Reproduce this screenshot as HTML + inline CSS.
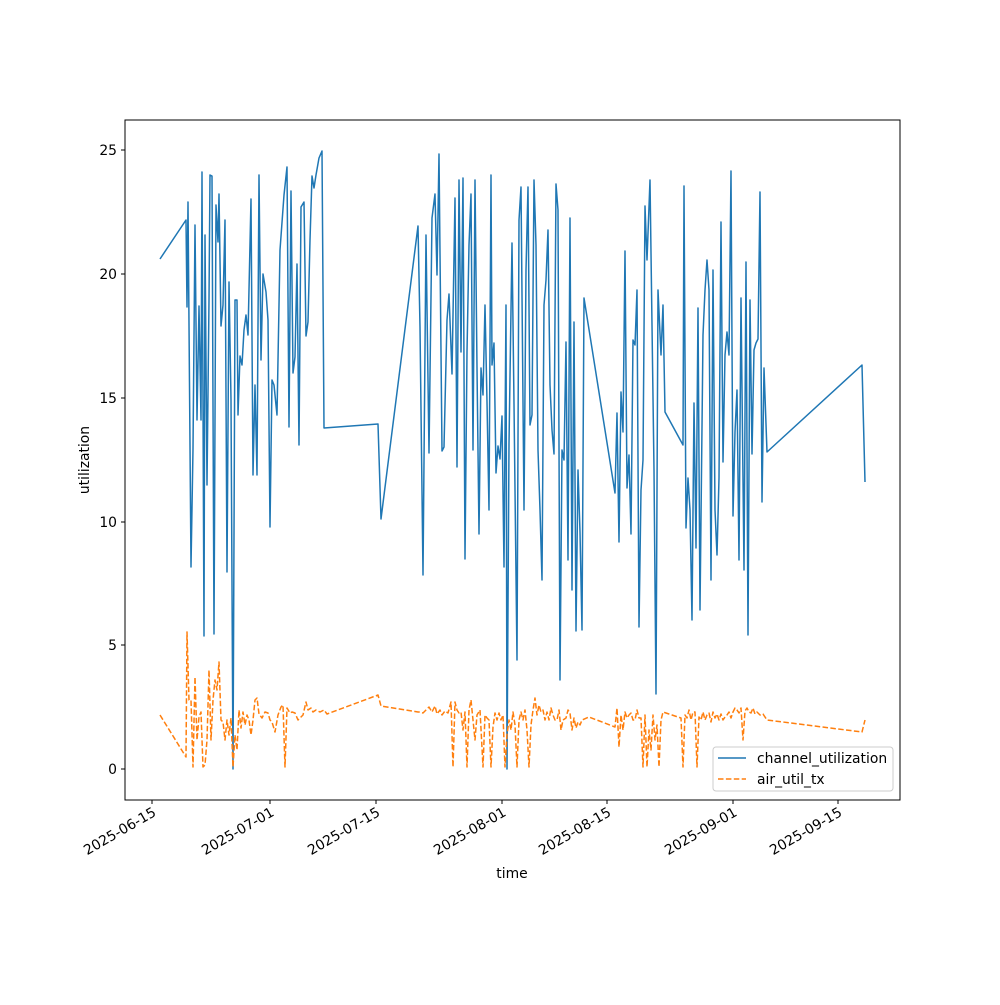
<!DOCTYPE html>
<html><head><meta charset="utf-8"><style>
html,body{margin:0;padding:0;background:#fff;}
svg text{font-family:"DejaVu Sans","Liberation Sans",sans-serif;font-size:13.9px;fill:#000;}
</style></head><body>
<svg width="1000" height="1000" viewBox="0 0 1000 1000" xmlns="http://www.w3.org/2000/svg">
<rect width="1000" height="1000" fill="#fff"/>
<g fill="none" stroke-linejoin="round">
<polyline stroke="#1f77b4" stroke-width="1.5" points="160,259 186,220 187,307 188,202 191,567 193,449 195,225 197,420 199,306 201,420 202,172 204,636 205,235 207,485 209,300 210,175 212,176 214,634 216,205 218,242 219,194 221,326 223,305 225,220 227,572 229,282 231,400 233,769 235,300 237,300 238,415 240,356 242,365 244,330 246,315 248,335 251,199 253,475 255,385 257,475 259,175 261,360 263,274 266,292 268,320 270,527 272,380 274,385 277,415 280,250 284,195 287,167 289,427 291,191 293,373 295,357 297,264 299,445 301,207 304,202 306,336 308,322 310,240 312,176 314,188 316,175 319,158 322,151 324,428 378,424 381,519 418,226 420,327 423,575 426,235 429,453 432,218 435,194 437,275 439,154 442,451 444,447 447,320 449,294 452,374 455,198 457,467 459,180 461,352 463,178 465,559 467,352 469,245 471,194 473,450 475,180 477,368 479,534 481,368 483,395 485,305 487,402 489,510 491,175 492,365 494,343 496,473 498,446 500,459 502,416 504,567 506,305 507,769 509,444 512,243 514,404 517,660 519,220 521,187 524,510 526,270 528,187 530,425 532,415 534,180 536,245 538,450 540,510 542,580 544,305 546,280 548,230 550,385 552,430 554,454 556,184 558,210 560,680 562,450 564,460 566,342 568,560 570,218 572,590 574,322 576,631 578,470 580,532 582,630 584,298 615,493 617,413 619,542 621,392 623,432 625,251 627,488 629,455 631,534 633,340 635,345 637,290 639,627 641,490 643,460 645,206 647,260 650,180 652,325 654,470 656,694 658,290 661,355 663,305 665,412 683,445 684,186 686,528 688,478 690,510 692,620 694,403 696,548 698,308 700,610 703,335 705,290 707,260 709,290 711,580 713,270 715,510 717,555 719,478 721,222 723,462 725,355 727,332 729,355 731,171 733,516 735,432 737,390 739,560 741,298 744,570 746,262 748,635 750,300 752,454 754,350 756,343 758,339 760,192 762,502 764,368 767,452 862,365 865,482"/>
<polyline stroke="#ff7f0e" stroke-width="1.5" stroke-dasharray="5.5,2.4" points="160,715 186,757 187,632 189,700 191,700 193,767 195,677 197,740 199,717 201,712 203,767 205,765 207,740 209,670 211,740 213,700 215,680 217,690 219,662 221,720 223,722 225,740 227,720 229,735 231,718 233,767 235,735 237,750 239,710 241,728 243,712 245,725 247,715 249,720 251,735 253,720 255,700 257,698 259,714 262,718 265,712 268,713 270,720 272,722 275,732 278,715 281,707 283,705 285,767 287,708 290,713 292,712 295,713 298,720 301,717 303,715 306,702 308,710 311,708 313,712 316,710 320,712 324,710 327,714 378,695 381,706 418,712 420,712 423,713 426,710 429,707 432,712 435,706 437,714 440,710 442,715 445,711 448,713 451,702 453,767 455,702 457,710 459,713 461,712 463,730 465,712 467,767 469,710 471,700 473,720 475,740 477,715 480,710 483,767 485,715 487,718 489,720 491,767 493,727 495,713 497,720 499,713 501,720 503,715 505,767 507,735 509,720 511,730 513,712 515,725 517,767 519,720 521,712 523,720 525,710 527,730 529,767 531,725 533,710 535,698 537,715 539,705 541,712 543,710 545,720 547,712 549,720 551,708 553,715 555,720 557,720 559,710 561,730 563,720 566,718 568,710 570,713 572,730 574,718 576,728 578,722 580,725 582,720 589,717 615,727 617,708 619,747 621,715 623,730 625,712 627,718 629,715 631,713 633,720 635,720 637,710 639,718 641,718 643,767 645,715 647,767 649,730 651,750 653,715 655,740 657,725 659,767 661,720 663,712 681,718 683,767 685,715 687,718 689,710 691,720 693,712 695,712 697,767 699,717 701,720 703,712 705,720 707,715 709,713 711,722 713,712 715,718 717,714 719,720 721,714 723,720 725,717 727,715 729,712 731,718 733,712 735,708 737,710 739,713 741,708 743,740 745,711 747,708 749,712 751,713 753,708 755,714 757,712 760,715 763,714 767,720 862,732 865,720"/>
</g>
<rect x="125" y="120" width="775" height="680" fill="none" stroke="#000" stroke-width="1"/>
<g stroke="#000" stroke-width="1">
<line x1="125" y1="150" x2="121" y2="150"/><line x1="125" y1="274" x2="121" y2="274"/><line x1="125" y1="398" x2="121" y2="398"/><line x1="125" y1="522" x2="121" y2="522"/><line x1="125" y1="645" x2="121" y2="645"/><line x1="125" y1="769" x2="121" y2="769"/>
<line x1="152" y1="800" x2="152" y2="804"/><line x1="270" y1="800" x2="270" y2="804"/><line x1="376" y1="800" x2="376" y2="804"/><line x1="502" y1="800" x2="502" y2="804"/><line x1="607" y1="800" x2="607" y2="804"/><line x1="733" y1="800" x2="733" y2="804"/><line x1="838" y1="800" x2="838" y2="804"/>
</g>
<g text-anchor="end">
<text x="117" y="155">25</text><text x="117" y="279">20</text><text x="117" y="403">15</text><text x="117" y="527">10</text><text x="117" y="650">5</text><text x="117" y="774">0</text>
</g>
<g text-anchor="end">
<text transform="translate(157,815) rotate(-30)">2025-06-15</text>
<text transform="translate(275,815) rotate(-30)">2025-07-01</text>
<text transform="translate(381,815) rotate(-30)">2025-07-15</text>
<text transform="translate(507,815) rotate(-30)">2025-08-01</text>
<text transform="translate(612,815) rotate(-30)">2025-08-15</text>
<text transform="translate(738,815) rotate(-30)">2025-09-01</text>
<text transform="translate(843,815) rotate(-30)">2025-09-15</text>
</g>
<text x="512" y="878" text-anchor="middle">time</text>
<text transform="translate(89,460) rotate(-90)" text-anchor="middle">utilization</text>
<rect x="713" y="747" width="180" height="44" rx="3" fill="#fff" fill-opacity="0.8" stroke="#ccc"/>
<line x1="718" y1="758" x2="746" y2="758" stroke="#1f77b4" stroke-width="1.5"/>
<text x="757" y="763">channel_utilization</text>
<line x1="718" y1="779" x2="746" y2="779" stroke="#ff7f0e" stroke-width="1.5" stroke-dasharray="5.5,2.4"/>
<text x="757" y="784">air_util_tx</text>
</svg>
</body></html>
